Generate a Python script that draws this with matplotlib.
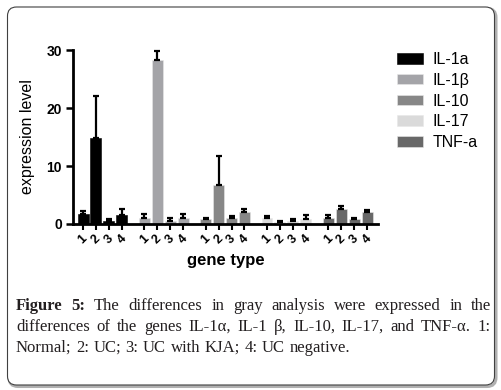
import numpy as np
import matplotlib
matplotlib.use("Agg")
import matplotlib.pyplot as plt
import matplotlib.patches as mp

genes = ["IL-1a", "IL-1β", "IL-10", "IL-17", "TNF-a"]
groups = ["1", "2", "3", "4"]
colors = ["#000000", "#a4a4a8", "#878787", "#dadada", "#686868"]

il1a = [1.7, 14.9, 0.5, 1.5]
il1b = [1.1, 28.2, 0.6, 1.1]
il10 = [0.9, 6.8, 1.0, 2.1]
il17 = [1.0, 0.4, 0.6, 0.9]
tnfa = [1.1, 2.5, 0.8, 2.0]

il1a_err = [0.6, 7.1, 0.3, 1.1]
il1b_err = [0.6, 1.7, 0.4, 0.7]
il10_err = [0.2, 4.9, 0.3, 0.4]
il17_err = [0.4, 0.05, 0.3, 0.6]
tnfa_err = [0.5, 0.6, 0.2, 0.4]

means = [il1a, il1b, il10, il17, tnfa]
errs = [il1a_err, il1b_err, il10_err, il17_err, tnfa_err]

W, H = 502, 390
fig = plt.figure(figsize=(W / 100, H / 100), dpi=100)

# rounded frame with a little shadow
shadow = mp.FancyBboxPatch((0.09, 0.035), 4.87, 3.78, boxstyle="round,pad=0,rounding_size=0.09",
                           transform=fig.dpi_scale_trans, fc="none", ec="#b0b0b0", lw=2.2, zorder=-10)
frame = mp.FancyBboxPatch((0.075, 0.05), 4.87, 3.78, boxstyle="round,pad=0,rounding_size=0.09",
                          transform=fig.dpi_scale_trans, fc="white", ec="#404040", lw=0.8, zorder=-9)
fig.patches.append(shadow)
fig.patches.append(frame)

ax = fig.add_axes([73 / W, 1 - 224 / H, 305 / W, 174 / H])
ax.set_zorder(5)
ax.patch.set_alpha(0)
gap = 4.75
width = 0.85
for g, (name, m, e, c) in enumerate(zip(genes, means, errs, colors)):
    x = g * gap + np.arange(len(groups))
    ax.bar(x, m, width=width, color=c, edgecolor="#e8e8e8" if g != 0 else "black", lw=0.4, label=name, zorder=2)
    ax.errorbar(x, m, yerr=[np.zeros(len(e)), e], fmt="none", ecolor="black", elinewidth=1.6,
                capsize=2.2, capthick=1.6, clip_on=False, zorder=3)

xt = np.concatenate([g * gap + np.arange(len(groups)) for g in range(len(genes))])
ax.set_xticks(xt)
ax.set_xticklabels(groups * len(genes), rotation=45, fontsize=9, fontweight="bold", family="Liberation Sans")
ax.set_xlim(-0.78, 4 * gap + 3 + 0.85)
ax.set_ylim(0, 30)
ax.set_yticks([0, 10, 20, 30])
ax.tick_params(axis="y", width=1.8, length=5, labelsize=10, pad=3)
ax.tick_params(axis="x", width=1.5, length=4, pad=2)
for lab in ax.get_yticklabels():
    lab.set_family("Liberation Sans")
    lab.set_fontweight("bold")
for s in ["top", "right"]:
    ax.spines[s].set_visible(False)
for s in ["left", "bottom"]:
    ax.spines[s].set_linewidth(2.0)
ax.set_ylabel("expression level", fontsize=11.5, family="Liberation Sans", labelpad=8)
ax.set_xlabel("gene type", fontsize=12, fontweight="bold", family="Liberation Sans", labelpad=5)

leg = ax.legend(loc="upper left", bbox_to_anchor=(397 / W, 1 - 52 / H), bbox_transform=fig.transFigure,
                borderaxespad=0, borderpad=0, frameon=False,
                prop={"family": "Liberation Sans", "size": 11.5}, handlelength=1.6, handleheight=0.65,
                labelspacing=0.36, handletextpad=0.65)

# caption, justified by hand
renderer = fig.canvas.get_renderer()
cap_lines = [
    "Figure 5: The differences in gray analysis were expressed in the",
    "differences of the genes IL-1α, IL-1 β, IL-10, IL-17, and TNF-α. 1:",
    "Normal; 2: UC; 3: UC with KJA; 4: UC negative.",
]
baselines = [310, 331, 352]
x0, x1 = 16, 491
fs = 12
for i, (line, yb) in enumerate(zip(cap_lines, baselines)):
    words = line.split(" ")
    texts = []
    for j, w in enumerate(words):
        bold = (i == 0 and j < 2)
        t = fig.text(0, 1 - yb / H, w, fontsize=fs, family="Liberation Serif",
                     fontweight="bold" if bold else "normal", va="baseline", color="#231f20")
        texts.append(t)
    widths = [t.get_window_extent(renderer).width for t in texts]
    if i < len(cap_lines) - 1:
        space = (x1 - x0 - sum(widths)) / (len(words) - 1)
    else:
        space = 4.5
    x = x0
    for t, w in zip(texts, widths):
        t.set_x(x / W)
        x += w + space

fig.savefig("out.png", dpi=100)
